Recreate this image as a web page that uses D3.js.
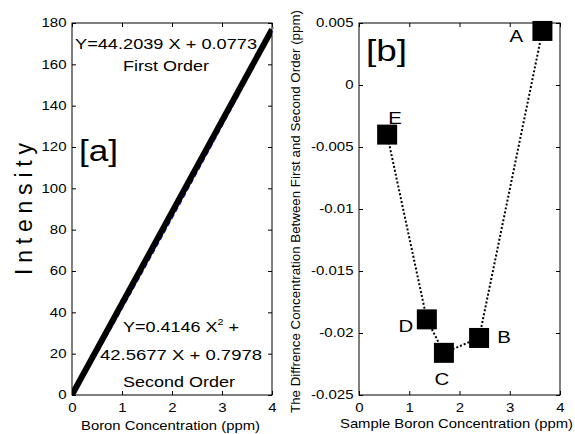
<!DOCTYPE html>
<html>
<head>
<meta charset="utf-8">
<script src="https://cdn.jsdelivr.net/npm/d3@7"></script>
<style>
body{margin:0;background:#fff;}
text{font-family:Arial,"Liberation Sans",sans-serif;}
</style>
</head>
<body>
<div id="graph"></div>
<script>
// panel a: calibration lines
var lineX = [0, 4];
var firstCoef = [44.2039, 0.0773];
var secondCoef = [0.4146, 42.5677, 0.7978];
var xTicksA = [0, 1, 2, 3, 4];
var yTicksA = [0, 20, 40, 60, 80, 100, 120, 140, 160, 180];

// panel b: difference points
var sampleLabels = ["E", "D", "C", "B", "A"];
var sampleX = [0.56, 1.35, 1.69, 2.39, 3.65];
var sampleDiff = [-0.0040, -0.0189, -0.0216, -0.0204, 0.00436];
var xTicksB = [0, 1, 2, 3, 4];
var yTicksB = [-0.025, -0.02, -0.015, -0.01, -0.005, 0, 0.005];

var svg = d3.select("#graph").append("svg").attr("width", 575).attr("height", 434);

// text stretched to a given width (the reference is squeezed wide)
function stxt(g, x, y, str, size, len, anchor){
  return g.append("text").attr("x", x).attr("y", y).attr("font-size", size)
    .attr("text-anchor", anchor || "start").attr("textLength", len)
    .attr("lengthAdjust", "spacingAndGlyphs").text(str);
}

function box(g, x, y, xt, yt, ytf){
  var w = x.range()[1] - x.range()[0], h = y.range()[0] - y.range()[1];
  g.append("rect").attr("x", x.range()[0]).attr("y", y.range()[1])
    .attr("width", w).attr("height", h).attr("fill", "none").attr("stroke", "#000").attr("stroke-width", 1);
  g.append("g").attr("transform", "translate(0," + y.range()[0] + ")")
    .call(d3.axisBottom(x).tickValues(xt).tickSizeInner(-4).tickSizeOuter(0).tickPadding(8).tickFormat(d3.format("d")));
  g.append("g").attr("transform", "translate(" + x.range()[0] + ",0)")
    .call(d3.axisLeft(y).tickValues(yt).tickSizeInner(-4).tickSizeOuter(0).tickPadding(4.5).tickFormat(ytf));
  g.append("g").attr("transform", "translate(0," + y.range()[1] + ")")
    .call(d3.axisTop(x).tickValues(xt).tickSizeInner(-4).tickSizeOuter(0).tickFormat(""));
  g.append("g").attr("transform", "translate(" + x.range()[1] + ",0)")
    .call(d3.axisRight(y).tickValues(yt).tickSizeInner(-4).tickSizeOuter(0).tickFormat(""));
  g.selectAll(".domain").remove();
  g.selectAll(".tick text").attr("font-size", 12.3).attr("fill", "#000")
    .attr("font-family", "Arial, 'Liberation Sans', sans-serif").attr("transform", "scale(1.22,1)");
}

// ---- panel a
var xa = d3.scaleLinear().domain([0, 4]).range([72, 272]);
var ya = d3.scaleLinear().domain([0, 180]).range([395, 23]);
var ga = svg.append("g");

svg.append("clipPath").attr("id", "ca").append("rect").attr("x", 72).attr("y", 23).attr("width", 200).attr("height", 372);
var secondPts = d3.range(0, 41).map(function(i){ var t = i / 10; return [t, secondCoef[0]*t*t + secondCoef[1]*t + secondCoef[2]]; });
var firstPts = lineX.map(function(t){ return [t, firstCoef[0]*t + firstCoef[1]]; });
var ln = d3.line().x(function(d){ return xa(d[0]); }).y(function(d){ return ya(d[1]); });
ga.append("path").attr("d", ln(secondPts)).attr("fill", "none").attr("stroke", "#1a1aff")
  .attr("stroke-width", 2).attr("stroke-dasharray", "5,3").attr("transform", "translate(2,0)").attr("clip-path", "url(#ca)");
ga.append("path").attr("d", ln(firstPts)).attr("fill", "none").attr("stroke", "#000").attr("stroke-width", 6).attr("clip-path", "url(#ca)");

box(ga, xa, ya, xTicksA, yTicksA, d3.format("d"));

stxt(ga, 75, 49, "Y=44.2039 X + 0.0773", 15, 182);
stxt(ga, 123, 71, "First Order", 15, 86);
var t2 = ga.append("text").attr("transform", "translate(123,332) scale(1.2,1)").attr("font-size", 15);
t2.append("tspan").text("Y=0.4146 X");
t2.append("tspan").attr("dy", -7).attr("font-size", 9).text("2");
t2.append("tspan").attr("dy", 7).text(" +");
stxt(ga, 100, 360, "42.5677 X + 0.7978", 15, 162);
stxt(ga, 123, 387, "Second Order", 15, 112);
stxt(ga, 79, 161, "[a]", 30, 39);
stxt(ga, 81, 430, "Boron Concentration (ppm)", 13.5, 179);
ga.append("text").attr("transform", "translate(32,209) rotate(-90)").attr("text-anchor", "middle")
  .attr("font-size", 23).attr("textLength", 132).attr("lengthAdjust", "spacing").text("Intensity");

// ---- panel b
var xb = d3.scaleLinear().domain([0, 4]).range([359, 560]);
var yb = d3.scaleLinear().domain([-0.025, 0.005]).range([395, 23]);
var gb = svg.append("g");
box(gb, xb, yb, xTicksB, yTicksB, function(d){ return d === 0 ? "0" : String(+d.toFixed(3)); });

var pts = sampleX.map(function(v, i){ return [v, sampleDiff[i]]; });
gb.append("path").attr("d", d3.line().x(function(d){ return xb(d[0]); }).y(function(d){ return yb(d[1]); })(pts))
  .attr("fill", "none").attr("stroke", "#000").attr("stroke-width", 2).attr("stroke-dasharray", "2,2");
gb.selectAll("rect.m").data(pts).enter().append("rect").attr("class", "m")
  .attr("x", function(d){ return xb(d[0]) - 10; }).attr("y", function(d){ return yb(d[1]) - 10; })
  .attr("width", 20).attr("height", 20).attr("fill", "#000");

var lblOff = { E: [8, -11], D: [-21, 13], C: [-2, 32], B: [25, 5], A: [-26, 11] };
gb.selectAll("text.lb").data(pts).enter().append("text").attr("class", "lb")
  .attr("transform", function(d, i){
    var o = lblOff[sampleLabels[i]];
    return "translate(" + (xb(d[0]) + o[0]) + "," + (yb(d[1]) + o[1]) + ") scale(1.2,1)";
  })
  .attr("text-anchor", "middle").attr("font-size", 17)
  .text(function(d, i){ return sampleLabels[i]; });

stxt(gb, 366, 61, "[b]", 30, 41);
stxt(gb, 340, 428, "Sample Boron Concentration (ppm)", 13.5, 233);
gb.append("text").attr("transform", "translate(300,211.5) rotate(-90)").attr("text-anchor", "middle")
  .attr("font-size", 12.5).attr("textLength", 403).attr("lengthAdjust", "spacingAndGlyphs")
  .text("The Diffrence Concentration Between First and Second Order (ppm)");
</script>
</body>
</html>
